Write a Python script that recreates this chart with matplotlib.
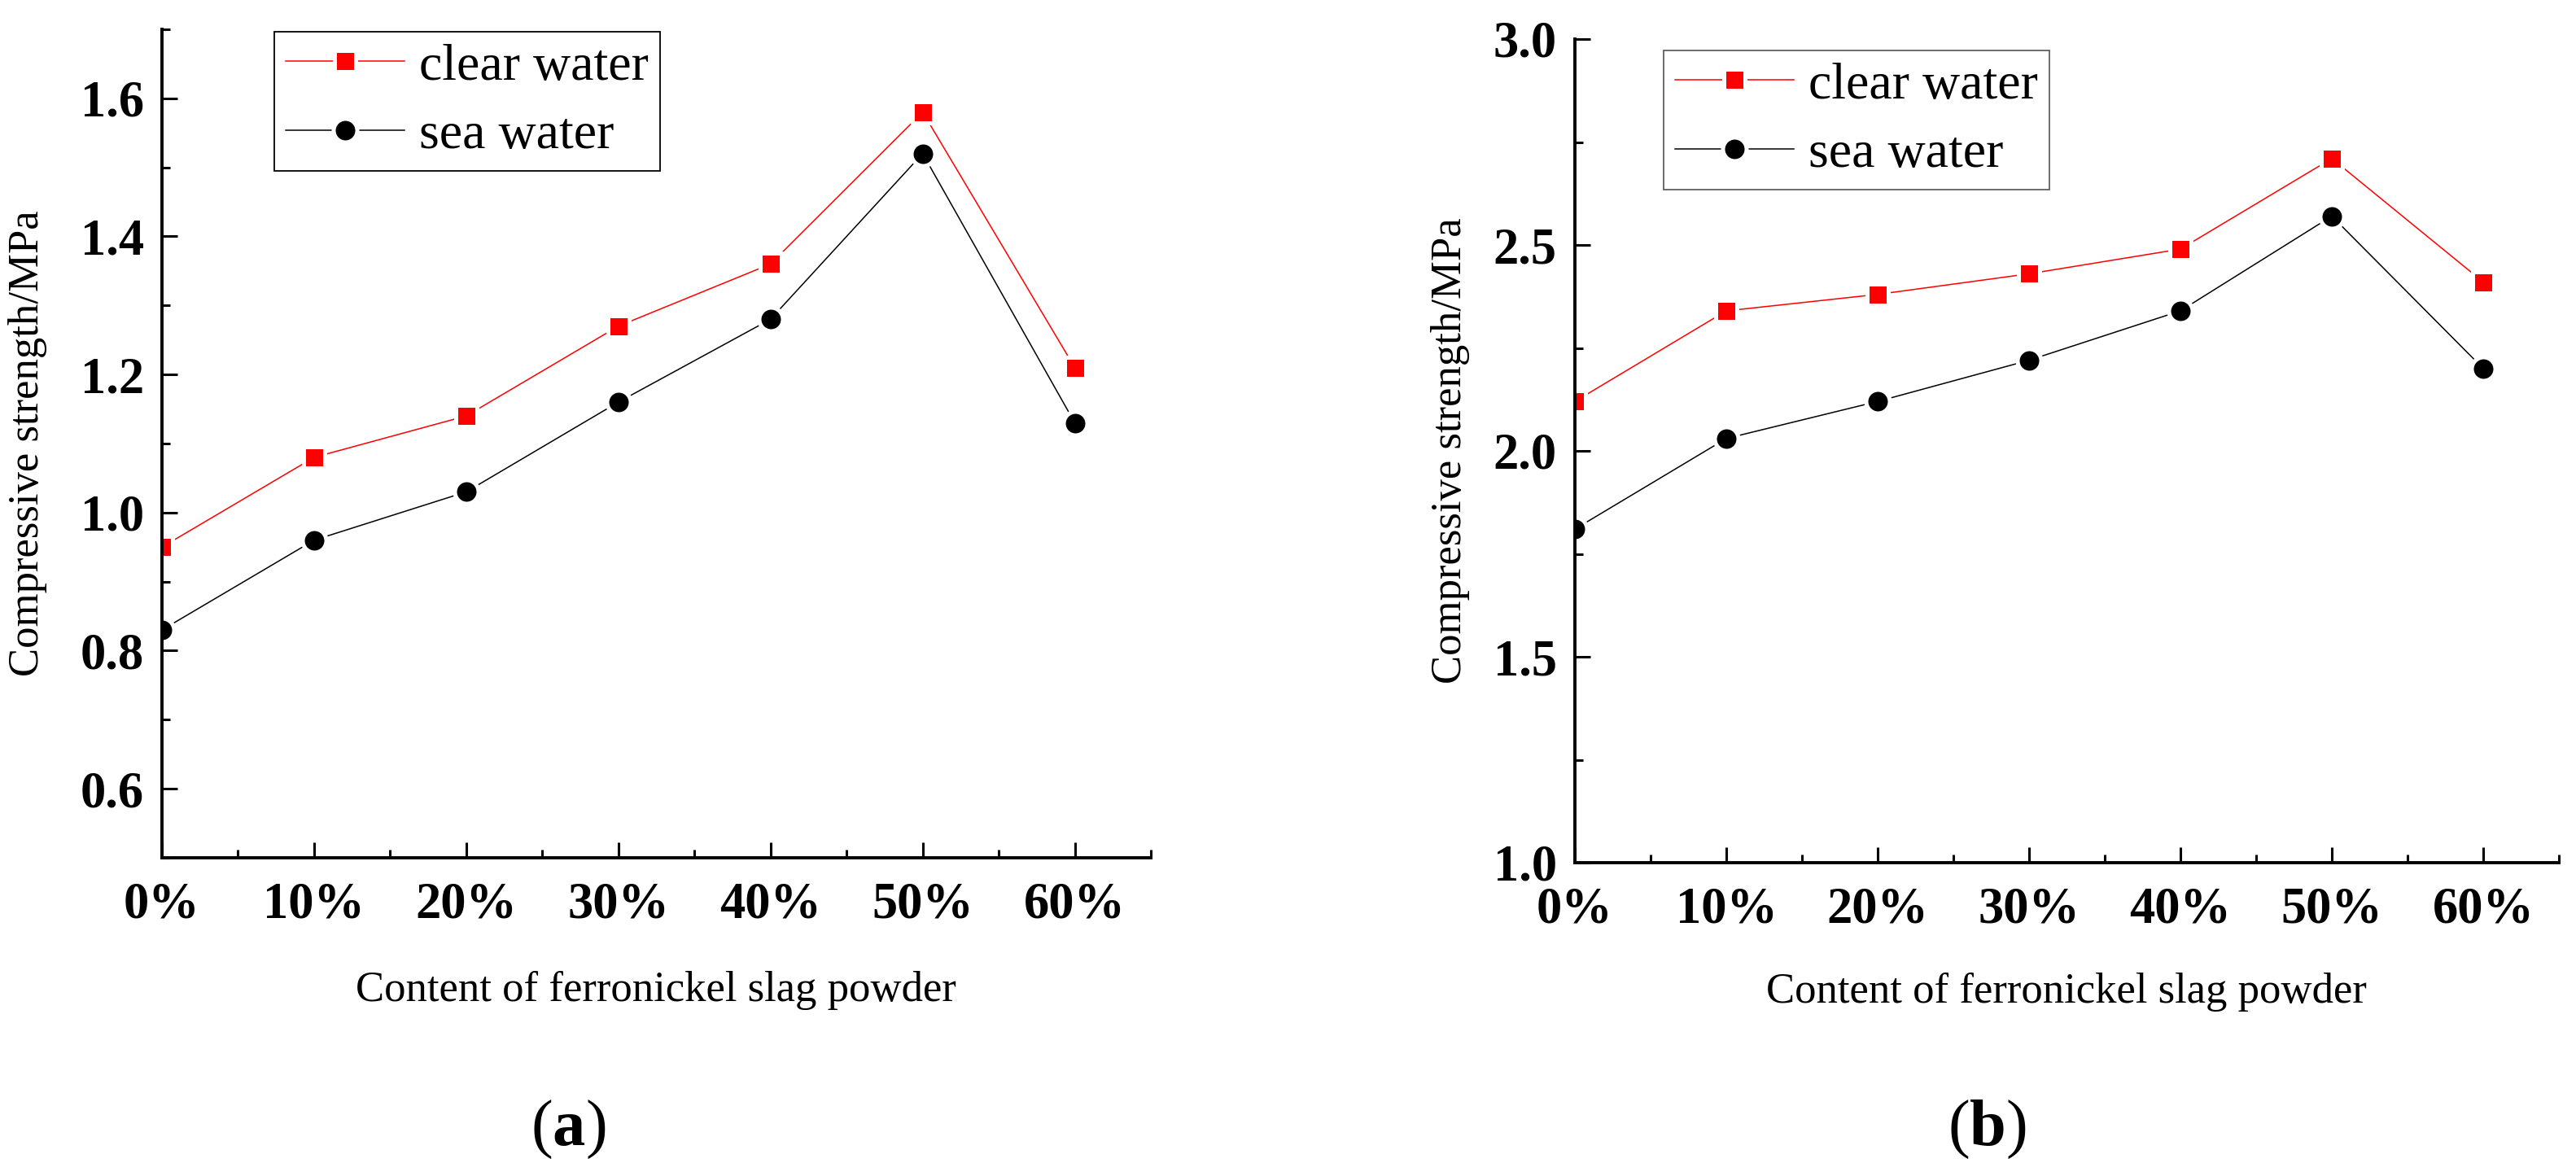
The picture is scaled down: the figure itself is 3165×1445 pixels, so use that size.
import matplotlib
matplotlib.use("Agg")
import matplotlib.pyplot as plt
from matplotlib.ticker import FixedLocator, MultipleLocator, FormatStrFormatter

# ---------------- data ----------------
content = [0, 10, 20, 30, 40, 50, 60]
content_labels = ["0%", "10%", "20%", "30%", "40%", "50%", "60%"]

a_clear = [0.95, 1.08, 1.14, 1.27, 1.36, 1.58, 1.21]
a_sea = [0.83, 0.96, 1.03, 1.16, 1.28, 1.52, 1.13]

b_clear = [2.12, 2.34, 2.38, 2.43, 2.49, 2.71, 2.41]
b_sea = [1.81, 2.03, 2.12, 2.22, 2.34, 2.57, 2.20]

series_names = ["clear water", "sea water"]
xlabel_text = "Content of ferronickel slag powder"
ylabel_text = "Compressive strength/MPa"

# ---------------- style ----------------
plt.rcParams["font.family"] = ["Liberation Serif", "DejaVu Serif"]
plt.rcParams["mathtext.fontset"] = "custom"
plt.rcParams["mathtext.rm"] = "Liberation Serif"
plt.rcParams["mathtext.bf"] = "Liberation Serif:bold"

W, H = 3165, 1445
fig = plt.figure(figsize=(W / 100, H / 100), dpi=100)

ax1 = fig.add_axes([199 / W, 1 - 1054 / H, 1215 / W, 1018 / H])
ax2 = fig.add_axes([1935 / W, 1 - 1060 / H, 1209 / W, 1012 / H])

px = 0.72  # points per pixel at dpi 100
ew = 5 * px
ms_sq = 27 * px
ms_ci = 29 * px
lw = 1.1


def draw(ax, clear, sea, ylim, major, minor, legend_anchor, legend_edge):
    ax.plot(content, clear, color="#ff0000", lw=lw, marker="s", ms=ms_sq,
            mfc="#ff0000", mec="white", mew=ew, label=series_names[0])
    ax.plot(content, sea, color="black", lw=lw, marker="o", ms=ms_ci,
            mfc="black", mec="white", mew=ew, label=series_names[1])
    ax.set_xlim(0, 65)
    ax.set_ylim(*ylim)
    ax.xaxis.set_major_locator(FixedLocator(content))
    ax.set_xticklabels(content_labels)
    ax.xaxis.set_minor_locator(FixedLocator([5, 15, 25, 35, 45, 55, 65]))
    ax.yaxis.set_major_locator(MultipleLocator(major))
    ax.yaxis.set_minor_locator(MultipleLocator(minor))
    ax.yaxis.set_major_formatter(FormatStrFormatter("%.1f"))
    for s in ["top", "right"]:
        ax.spines[s].set_visible(False)
    for s in ["left", "bottom"]:
        ax.spines[s].set_linewidth(2.8)
    ax.tick_params(which="major", direction="in", length=14, width=2.2)
    ax.tick_params(which="minor", direction="in", length=7, width=2.2)
    ax.tick_params(axis="x", which="major", pad=21, labelsize=45)
    ax.tick_params(axis="y", which="major", pad=16, labelsize=45)
    for t in ax.get_xticklabels() + ax.get_yticklabels():
        t.set_fontweight("bold")
    leg = ax.legend(loc="upper left", bbox_to_anchor=legend_anchor,
                    bbox_transform=fig.transFigure, borderaxespad=0,
                    fontsize=46, handlelength=2.28, handletextpad=0.28,
                    labelspacing=0.4, borderpad=0.22, fancybox=False,
                    framealpha=1, numpoints=1)
    leg.get_frame().set_edgecolor(legend_edge)
    leg.get_frame().set_linewidth(1.3)


draw(ax1, a_clear, a_sea, (0.5, 1.7), 0.2, 0.1,
     (337 / W, 1 - 39 / H), "black")
draw(ax2, b_clear, b_sea, (1.0, 3.0), 0.5, 0.25,
     (2044 / W, 1 - 62 / H), "#606060")

# axis labels
fig.text(34 / W, 1 - 545 / H, ylabel_text, rotation=90, ha="center",
         va="center", fontsize=38)
fig.text(1782 / W, 1 - 554 / H, ylabel_text, rotation=90, ha="center",
         va="center", fontsize=38)
fig.text(806 / W, 1 - 1230 / H, xlabel_text, ha="center", va="baseline",
         fontsize=38)
fig.text(2539 / W, 1 - 1232 / H, xlabel_text, ha="center", va="baseline",
         fontsize=38)

# captions
fig.text(698 / W, 1 - 1407 / H, r"($\mathbf{a}$)", ha="center",
         va="baseline", fontsize=58)
fig.text(2441 / W, 1 - 1407 / H, r"($\mathbf{b}$)", ha="center",
         va="baseline", fontsize=58)

fig.savefig("out.png", dpi=100, facecolor="white")
